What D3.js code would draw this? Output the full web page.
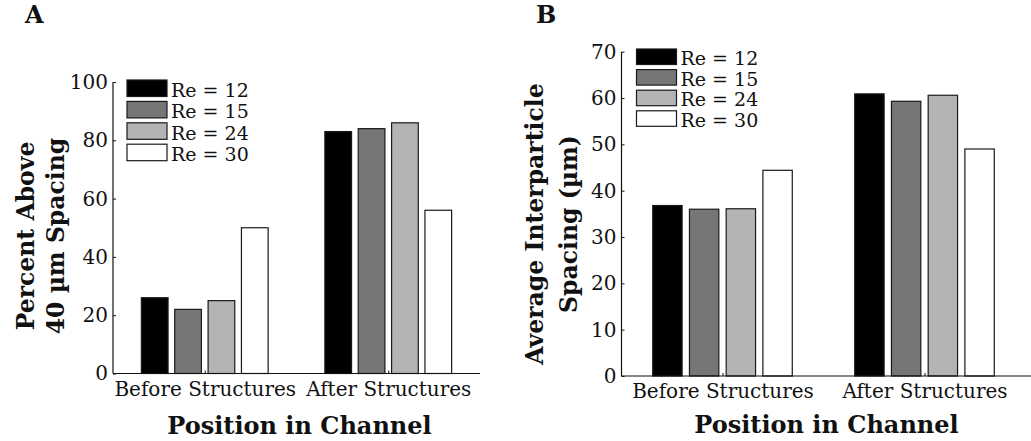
<!DOCTYPE html>
<html>
<head>
<meta charset="utf-8">
<script src="https://cdn.jsdelivr.net/npm/d3@7"></script>
<style>
  html, body { margin: 0; padding: 0; background: #fff; }
  svg { display: block; font-family: "DejaVu Serif", serif; }
</style>
</head>
<body>
<svg id="chart" width="1031" height="441"></svg>
<script>
// categories and series
const categories   = ["Before Structures", "After Structures"];
const seriesLabels = ["Re = 12", "Re = 15", "Re = 24", "Re = 30"];

// panel A: percent above 40 µm spacing, one array per series (before, after)
const percentRe12 = [26, 83];
const percentRe15 = [22, 84];
const percentRe24 = [25, 86];
const percentRe30 = [50, 56];
const percentTicks = [0, 20, 40, 60, 80, 100];

// panel B: average interparticle spacing (µm)
const spacingRe12 = [36.8, 60.9];
const spacingRe15 = [36.0, 59.3];
const spacingRe24 = [36.1, 60.6];
const spacingRe30 = [44.4, 49.0];
const spacingTicks = [0, 10, 20, 30, 40, 50, 60, 70];

const FILLS = ["#000000", "#767676", "#b4b4b4", "#ffffff"];
const BAR_STROKE = "#1a1a1a";

const svg = d3.select("#chart");

function drawPanel(o) {
  const g = svg.append("g");
  const series = o.values.map((vals, i) => ({ label: seriesLabels[i], fill: FILLS[i], vals }));

  const x = d3.scaleBand().domain(categories).range([o.left, o.right]).paddingInner(0).paddingOuter(0);
  const bw = x.bandwidth();
  // MATLAB-style grouped bars: group width 0.727 of a slot, bars 80% of their step
  const xi = d3.scaleBand().domain(seriesLabels)
    .range([-0.3636 * bw, 0.3636 * bw]).paddingInner(0.2).paddingOuter(0.1);
  const y = d3.scaleLinear().domain([0, d3.max(o.ticks)]).range([o.bottom, o.top]);

  // bars
  categories.forEach((c, ci) => {
    g.append("g").selectAll("rect").data(series).join("rect")
      .attr("x", d => x(c) + bw / 2 + xi(d.label))
      .attr("y", d => y(d.vals[ci]))
      .attr("width", xi.bandwidth())
      .attr("height", d => y(0) - y(d.vals[ci]))
      .attr("fill", d => d.fill)
      .attr("stroke", BAR_STROKE).attr("stroke-width", 1.2);
  });

  // y axis, ticks pointing inward
  const ya = g.append("g").attr("transform", `translate(${o.left},0)`)
    .call(d3.axisLeft(y).tickValues(o.ticks).tickSizeInner(-3).tickSizeOuter(0).tickPadding(5));
  ya.select(".domain").remove();
  ya.selectAll("line").attr("stroke", "#111");
  ya.selectAll("text").attr("font-size", 20).attr("fill", "#111").attr("font-family", "DejaVu Serif");
  g.append("line").attr("x1", o.left).attr("x2", o.left).attr("y1", o.top).attr("y2", o.bottom)
    .attr("stroke", "#111").attr("stroke-width", 1.2);

  // x axis
  const xa = g.append("g").attr("transform", `translate(${x.bandwidth() / 2},${o.bottom})`)
    .call(d3.axisBottom(d3.scalePoint().domain(categories).range([x(categories[0]), x(categories[1])]))
      .tickSizeInner(-3).tickSizeOuter(0).tickPadding(o.xPad));
  xa.select(".domain").remove();
  xa.selectAll("line").attr("stroke", "#111");
  xa.selectAll("text").attr("font-size", 20).attr("fill", "#111").attr("font-family", "DejaVu Serif");
  g.append("line").attr("x1", o.left).attr("x2", o.axisEnd).attr("y1", o.bottom).attr("y2", o.bottom)
    .attr("stroke", "#111").attr("stroke-width", 1.2);

  // legend
  const lg = g.append("g").attr("transform", `translate(${o.left + o.legDx},${o.top + o.legDy})`);
  series.forEach((s, i) => {
    const row = lg.append("g").attr("transform", `translate(0,${i * o.legStep})`);
    row.append("rect").attr("width", 40).attr("height", o.legH)
      .attr("fill", s.fill).attr("stroke", BAR_STROKE).attr("stroke-width", 1.2);
    row.append("text").attr("x", 44).attr("y", o.legH + 0.5)
      .attr("font-size", 19).attr("fill", "#111").text(s.label);
  });

  // y title (two lines)
  const yt = g.append("g").attr("transform", `translate(0,${o.yTitleY}) rotate(-90)`);
  o.yTitle.forEach((t, i) => {
    yt.append("text").attr("x", 0).attr("y", o.yTitleX[i])
      .attr("text-anchor", "middle").attr("font-size", 23.5).attr("font-weight", "bold")
      .attr("fill", "#111").text(t);
  });

  // x title
  g.append("text").attr("x", (o.left + o.right) / 2 + 3).attr("y", o.xTitleY)
    .attr("text-anchor", "middle").attr("font-size", 24).attr("font-weight", "bold")
    .attr("fill", "#111").text("Position in Channel");

  // panel letter
  g.append("text").attr("x", o.letterX).attr("y", 23)
    .attr("font-size", 24).attr("font-weight", "bold").attr("fill", "#111").text(o.letter);
}

drawPanel({
  letter: "A", letterX: 25,
  values: [percentRe12, percentRe15, percentRe24, percentRe30],
  ticks: percentTicks,
  left: 113, right: 480, axisEnd: 480, top: 82, bottom: 373.5, xPad: 8,
  legDx: 14, legDy: -2, legStep: 21.4, legH: 16.5,
  yTitle: ["Percent Above", "40 µm Spacing"], yTitleX: [34, 64], yTitleY: 236,
  xTitleY: 434
});

drawPanel({
  letter: "B", letterX: 536,
  values: [spacingRe12, spacingRe15, spacingRe24, spacingRe30],
  ticks: spacingTicks,
  left: 621.5, right: 1025.5, axisEnd: 1031, top: 51.7, bottom: 376, xPad: 8,
  legDx: 15, legDy: -2.7, legStep: 20.6, legH: 15.5,
  yTitle: ["Average Interparticle", "Spacing (µm)"], yTitleX: [543, 577], yTitleY: 224,
  xTitleY: 433
});
</script>
</body>
</html>
